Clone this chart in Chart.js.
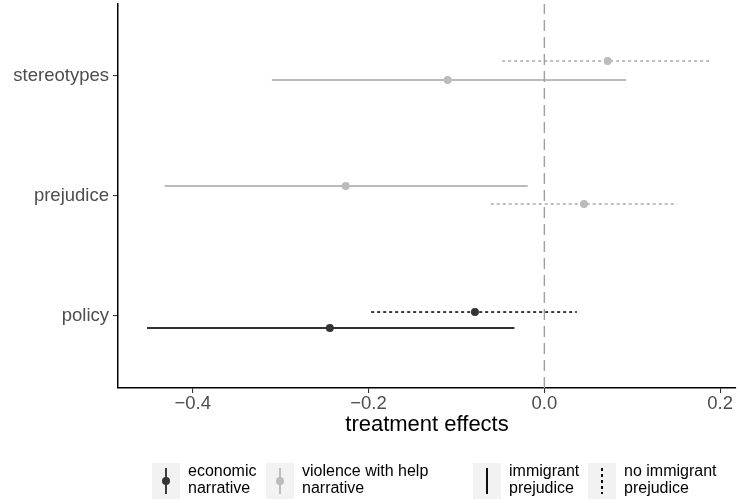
<!DOCTYPE html>
<html>
<head>
<meta charset="utf-8">
<script src="https://cdn.jsdelivr.net/npm/chart.js@4/dist/chart.umd.min.js"></script>
<style>
  html, body { margin: 0; padding: 0; background: #ffffff; }
  #wrap { width: 740px; height: 503px; }
</style>
</head>
<body>
<div id="wrap"><canvas id="c" width="740" height="503"></canvas></div>
<script>
// Outcome categories, bottom to top
const outcomes = ['policy', 'prejudice', 'stereotypes'];
const xTicks = [-0.4, -0.2, 0, 0.2];

// One row per estimate
const rowOutcome   = ['policy', 'policy', 'prejudice', 'prejudice', 'stereotypes', 'stereotypes'];
const rowNarrative = ['economic', 'economic', 'violence', 'violence', 'violence', 'violence'];
const rowPrejudice = ['immigrant', 'none', 'immigrant', 'none', 'immigrant', 'none'];
const rowEstimate  = [-0.244, -0.079, -0.226, 0.045, -0.110, 0.072];
const rowLower     = [-0.452, -0.197, -0.432, -0.061, -0.310, -0.048];
const rowUpper     = [-0.034, 0.037, -0.019, 0.151, 0.093, 0.189];
// vertical jitter applied to each row
const rowJitter    = [-0.100, 0.033, 0.083, -0.067, -0.033, 0.125];

// Legend entries
const narrativeKeys   = ['economic', 'violence'];
const narrativeLabels = [['economic', 'narrative'], ['violence with help', 'narrative']];
const prejudiceKeys   = ['immigrant', 'none'];
const prejudiceLabels = [['immigrant', 'prejudice'], ['no immigrant', 'prejudice']];

const FONT = '"Liberation Sans", Arial, Helvetica, sans-serif';
const narrativeColor = { economic: '#333333', violence: '#BBBBBB' };
const prejudiceDash  = { immigrant: [], none: [3, 3] };
const LINE_W = 1.9;
const POINT_R = 4;

const rowY = i => outcomes.indexOf(rowOutcome[i]) + 1 + rowJitter[i];

const datasets = [];

// reference line at zero
datasets.push({
  data: [{ x: 0, y: 0.4 }, { x: 0, y: 3.6 }],
  showLine: true,
  borderColor: '#9E9E9E',
  borderWidth: 1.4,
  borderDash: [11, 6],
  pointRadius: 0
});

// interval lines
rowEstimate.forEach((est, i) => {
  const y = rowY(i);
  datasets.push({
    data: [{ x: rowLower[i], y }, { x: rowUpper[i], y }],
    showLine: true,
    borderColor: narrativeColor[rowNarrative[i]],
    borderWidth: LINE_W,
    borderDash: prejudiceDash[rowPrejudice[i]],
    pointRadius: 0
  });
});

// point estimates
datasets.push({
  data: rowEstimate.map((est, i) => ({ x: est, y: rowY(i) })),
  showLine: false,
  pointRadius: POINT_R,
  pointBorderWidth: 0,
  pointBackgroundColor: rowNarrative.map(n => narrativeColor[n]),
  pointBorderColor: rowNarrative.map(n => narrativeColor[n])
});

// legend drawn below the plot
const bottomLegend = {
  id: 'bottomLegend',
  afterDraw(chart) {
    const ctx = chart.ctx;
    const top = 463, h = 36, w = 28;
    const lineGap = 17;
    const textY1 = 472;
    ctx.save();
    ctx.font = '16px ' + FONT;
    ctx.textBaseline = 'middle';
    ctx.textAlign = 'left';

    const drawText = (lines, x) => {
      ctx.fillStyle = '#000000';
      lines.forEach((t, k) => ctx.fillText(t, x, textY1 + k * lineGap));
    };
    const box = x => {
      ctx.fillStyle = '#F2F2F2';
      ctx.fillRect(x, top, w, h);
    };

    const narrativeX = [152, 266];
    narrativeKeys.forEach((k, j) => {
      const x = narrativeX[j];
      box(x);
      const cx = x + w / 2;
      ctx.strokeStyle = narrativeColor[k];
      ctx.lineWidth = LINE_W;
      ctx.setLineDash([]);
      ctx.beginPath();
      ctx.moveTo(cx, top + 5);
      ctx.lineTo(cx, top + h - 5);
      ctx.stroke();
      ctx.fillStyle = narrativeColor[k];
      ctx.beginPath();
      ctx.arc(cx, top + h / 2, POINT_R, 0, Math.PI * 2);
      ctx.fill();
      drawText(narrativeLabels[j], x + w + 8);
    });

    const prejudiceX = [473, 588];
    prejudiceKeys.forEach((k, j) => {
      const x = prejudiceX[j];
      box(x);
      const cx = x + w / 2;
      ctx.strokeStyle = '#000000';
      ctx.lineWidth = LINE_W;
      ctx.setLineDash(prejudiceDash[k]);
      ctx.beginPath();
      ctx.moveTo(cx, top + 5);
      ctx.lineTo(cx, top + h - 5);
      ctx.stroke();
      ctx.setLineDash([]);
      drawText(prejudiceLabels[j], x + w + 8);
    });
    ctx.restore();
  }
};

const fmt = v => {
  const s = Number(v).toFixed(1);
  return s.replace('-', '\u2212');
};

new Chart(document.getElementById('c'), {
  type: 'scatter',
  data: { datasets },
  plugins: [bottomLegend],
  options: {
    responsive: false,
    devicePixelRatio: 1,
    animation: false,
    layout: { padding: { top: 4, right: 3, bottom: 63, left: 0 } },
    plugins: {
      legend: { display: false },
      tooltip: { enabled: false }
    },
    scales: {
      x: {
        type: 'linear',
        min: -0.485,
        max: 0.218,
        afterBuildTicks: s => { s.ticks = xTicks.map(v => ({ value: v })); },
        afterFit: s => { s.height = 52; },
        ticks: {
          callback: v => fmt(v),
          font: { family: FONT, size: 18.5 },
          color: '#4D4D4D',
          padding: 0,
          maxRotation: 0
        },
        grid: { drawOnChartArea: false, drawTicks: true, tickLength: 5, color: '#333333', lineWidth: 1.1 },
        border: { display: true, color: '#000000', width: 1.5 },
        title: {
          display: true,
          text: 'treatment effects',
          font: { family: FONT, size: 22 },
          color: '#000000',
          padding: { top: 0, bottom: 2 }
        }
      },
      y: {
        type: 'linear',
        min: 0.4,
        max: 3.6,
        afterBuildTicks: s => { s.ticks = outcomes.map((o, i) => ({ value: i + 1 })); },
        afterFit: s => { s.width = 118; s.paddingTop = 0; s.paddingBottom = 0; },
        ticks: {
          callback: v => outcomes[v - 1],
          font: { family: FONT, size: 18.5 },
          color: '#4D4D4D',
          padding: 4
        },
        grid: { drawOnChartArea: false, drawTicks: true, tickLength: 5, color: '#333333', lineWidth: 1.1 },
        border: { display: true, color: '#000000', width: 1.5 }
      }
    }
  }
});
</script>
</body>
</html>
